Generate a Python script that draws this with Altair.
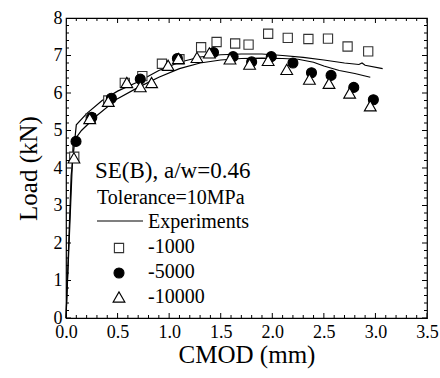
import altair as alt
import pandas as pd

# ---------------- data ----------------
# Experimental curves (two specimens)
exp1_x = [0.0, 0.02, 0.05, 0.10, 0.20, 0.35, 0.50, 0.70, 0.90, 1.10, 1.30, 1.50, 1.70, 1.90, 2.10, 2.30, 2.50, 2.70, 2.84, 2.87, 2.90, 3.07]
exp1_y = [0.0, 1.50, 3.80, 5.15, 5.45, 5.80, 6.05, 6.30, 6.60, 6.82, 6.96, 7.02, 7.04, 7.04, 7.00, 6.95, 6.88, 6.80, 6.76, 6.80, 6.74, 6.65]
exp2_x = [0.0, 0.03, 0.07, 0.15, 0.30, 0.50, 0.70, 0.90, 1.10, 1.30, 1.50, 1.70, 1.90, 2.10, 2.25, 2.40, 2.50, 2.65, 2.80, 2.95]
exp2_y = [0.0, 2.00, 4.70, 5.00, 5.40, 5.85, 6.15, 6.42, 6.65, 6.80, 6.88, 6.92, 6.93, 6.92, 6.90, 6.82, 6.72, 6.60, 6.52, 6.42]

# Simulations
s1000_x = [0.08, 0.24, 0.41, 0.57, 0.74, 0.93, 1.10, 1.31, 1.46, 1.64, 1.77, 1.96, 2.15, 2.35, 2.54, 2.73, 2.93]
s1000_y = [4.30, 5.33, 5.80, 6.27, 6.45, 6.78, 6.90, 7.22, 7.36, 7.32, 7.29, 7.58, 7.47, 7.44, 7.45, 7.24, 7.11]
s5000_x = [0.097, 0.25, 0.44, 0.72, 1.08, 1.43, 1.62, 1.80, 1.99, 2.20, 2.38, 2.57, 2.79, 2.98]
s5000_y = [4.71, 5.35, 5.86, 6.37, 6.92, 7.08, 6.97, 6.83, 6.97, 6.80, 6.54, 6.47, 6.15, 5.82]
s10000_x = [0.077, 0.23, 0.41, 0.59, 0.72, 0.83, 0.99, 1.09, 1.27, 1.39, 1.59, 1.78, 1.96, 2.14, 2.36, 2.55, 2.75, 2.95]
s10000_y = [4.27, 5.32, 5.78, 6.28, 6.17, 6.28, 6.74, 6.92, 6.95, 7.07, 6.91, 6.77, 6.87, 6.63, 6.37, 6.26, 6.00, 5.66]

x_major = [0.0, 0.5, 1.0, 1.5, 2.0, 2.5, 3.0, 3.5]
y_major = [0, 1, 2, 3, 4, 5, 6, 7, 8]
annot_lines = ["SE(B), a/w=0.46", "Tolerance=10MPa"]
legend_labels = ["Experiments", "-1000", "-5000", "-10000"]

# ---------------- layout / style ----------------
W, H = 361, 300
FONT = "Liberation Serif"
x_minor = [round(i * 0.1, 1) for i in range(36) if i % 5 != 0]
y_minor = [round(i * 0.2, 1) for i in range(41) if i % 5 != 0]

xs = alt.Scale(domain=[0, 3.5], nice=False, zero=False)
ys = alt.Scale(domain=[0, 8], nice=False, zero=False)

curves = pd.concat([
    pd.DataFrame({"x": exp1_x, "y": exp1_y, "curve": "a", "i": range(len(exp1_x))}),
    pd.DataFrame({"x": exp2_x, "y": exp2_y, "curve": "b", "i": range(len(exp2_x))}),
])

def pts(xv, yv):
    return pd.DataFrame({"x": xv, "y": yv})

main_x_axis = alt.Axis(orient="bottom", values=x_major, format=".1f", ticks=False, domain=False, grid=False,
                       labelFont=FONT, labelFontSize=18, labelColor="black", labelPadding=5,
                       labelFlush=False, labelOverlap=False,
                       title="CMOD (mm)", titleFont=FONT, titleFontSize=25, titleFontWeight="normal",
                       titleColor="black", titlePadding=1)
main_y_axis = alt.Axis(orient="left", values=y_major, format="d", ticks=False, domain=False, grid=False,
                       labelFont=FONT, labelFontSize=18, labelColor="black", labelPadding=4,
                       labelFlush=False, labelOverlap=False,
                       title="Load (kN)", titleFont=FONT, titleFontSize=25, titleFontWeight="normal",
                       titleColor="black", titlePadding=12)

line = alt.Chart(curves).mark_line(color="black", strokeWidth=1.2).encode(
    x=alt.X("x:Q", scale=xs, axis=main_x_axis),
    y=alt.Y("y:Q", scale=ys, axis=main_y_axis),
    detail="curve:N",
    order="i:Q",
)

# inward ticks on all four sides (half of each tick is clipped away by the frame)
def xticks(vals, length, ypos):
    return alt.Chart(pd.DataFrame({"v": vals})).mark_tick(
        orient="vertical", size=length, thickness=1, color="black", opacity=1, clip=True
    ).encode(x=alt.X("v:Q", scale=xs, axis=None), y=alt.value(ypos))

def yticks(vals, length, xpos):
    return alt.Chart(pd.DataFrame({"v": vals})).mark_tick(
        orient="horizontal", size=length, thickness=1, color="black", opacity=1, clip=True
    ).encode(y=alt.Y("v:Q", scale=ys, axis=None), x=alt.value(xpos))

tick_layers = [
    xticks(x_major, 10, H), xticks(x_minor, 6, H), xticks(x_major, 10, 0), xticks(x_minor, 6, 0),
    yticks(y_major, 10, 0), yticks(y_minor, 6, 0), yticks(y_major, 10, W), yticks(y_minor, 6, W),
]

def scatter(df, shape, size, fill, stroke):
    return alt.Chart(df).mark_point(shape=shape, size=size, filled=True, fill=fill, stroke=stroke,
                                    strokeWidth=1.1, opacity=1).encode(
        x=alt.X("x:Q", scale=xs, axis=None),
        y=alt.Y("y:Q", scale=ys, axis=None),
    )

sq = scatter(pts(s1000_x, s1000_y), "square", 85, "white", "#333333")
ci = scatter(pts(s5000_x, s5000_y), "circle", 100, "black", "black")
tr = scatter(pts(s10000_x, s10000_y), "triangle-up", 140, "white", "black")

# ---------------- annotation and legend ----------------
def txt(s, x, y, size):
    return alt.Chart(pd.DataFrame({"t": [s]})).mark_text(
        text=s, font=FONT, fontSize=size, color="black", align="left", baseline="alphabetic"
    ).encode(x=alt.value(x), y=alt.value(y))

def sym(shape, size, fill, stroke, x, y):
    return alt.Chart(pd.DataFrame({"t": [0]})).mark_point(
        shape=shape, size=size, filled=True, fill=fill, stroke=stroke, strokeWidth=1.1, opacity=1
    ).encode(x=alt.value(x), y=alt.value(y))

leg_line = alt.Chart(pd.DataFrame({"t": [0]})).mark_rule(color="black", strokeWidth=1.2).encode(
    x=alt.value(31), x2=alt.value(77), y=alt.value(203))

annot = [
    txt(annot_lines[0], 29, 160, 23),
    txt(annot_lines[1], 31, 186, 20),
    leg_line,
    txt(legend_labels[0], 82, 210, 20),
    sym("square", 85, "white", "#333333", 53, 230),
    txt(legend_labels[1], 82, 235, 20),
    sym("circle", 100, "black", "black", 53, 255),
    txt(legend_labels[2], 82, 260, 20),
    sym("triangle-up", 140, "white", "black", 53, 279),
    txt(legend_labels[3], 82, 285, 20),
]

chart = alt.layer(line, *tick_layers, sq, ci, tr, *annot).resolve_axis(
    x="independent", y="independent"
).properties(
    width=W, height=H,
    autosize=alt.AutoSizeParams(type="none"),
    padding={"left": 66, "top": 18, "right": 13, "bottom": 60},
    background="white",
).configure(font=FONT).configure_view(stroke="black", strokeWidth=1.2)

chart.save("out.html", embed_options={"renderer": "svg", "actions": False})
